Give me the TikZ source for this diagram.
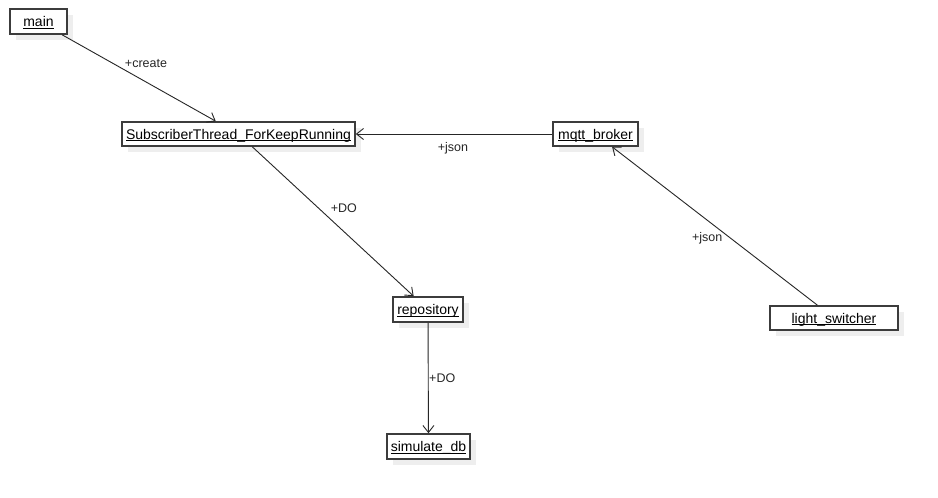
\documentclass[tikz,border=0pt]{standalone}
\usepackage{fontspec}
\setmainfont{Liberation Sans}
\usetikzlibrary{arrows.meta,shadows}
\definecolor{boxline}{RGB}{60,60,60}
\definecolor{shadowc}{RGB}{238,238,238}
\newcommand{\objul}[1]{\setbox0\hbox{#1}\rlap{\rule[-1.8pt]{\wd0}{0.9pt}}\box0}
\tikzset{
  obj/.style={draw=boxline, line width=1.6pt, fill=white, inner sep=0pt,
    minimum height=25pt, font=\fontsize{14}{16}\selectfont,
    text height=10.5pt, text depth=0pt,
    drop shadow={shadow xshift=6pt, shadow yshift=-6pt, fill=shadowc, opacity=1}},
  conn/.style={draw=black!85, line width=0.9pt,
    -{Straight Barb[length=7pt, width=11pt, line width=0.9pt]}},
  lbl/.style={font=\fontsize{12.5}{14}\selectfont, inner sep=0pt, text=black!85}
}
\begin{document}
\begin{tikzpicture}[x=1pt, y=-1pt]
\useasboundingbox[fill=white] (0,0) rectangle (938,498);
\node[obj, minimum width=57pt]  (main)  at (38.5,21.5)  {\objul{main}};
\node[obj, minimum width=233pt, minimum height=24pt] (sub) at (238.5,134) {\objul{SubscriberThread\_ForKeepRunning}};
\node[obj, minimum width=85pt, minimum height=24pt]  (mqtt)  at (595.5,134) {\objul{mqtt\_broker}};
\node[obj, minimum width=70pt]  (repo)  at (428,309.5) {\objul{repository}};
\node[obj, minimum width=83pt]  (simdb) at (428.5,446.5) {\objul{simulate\_db}};
\node[obj, minimum width=128pt, minimum height=24pt] (light) at (834,318) {\objul{light\_switcher}};

\draw[conn] (main) -- (sub) node[lbl, pos=0.546, yshift=18pt] {+create};
\draw[conn] (mqtt) -- (sub) node[lbl, pos=0.505, yshift=-14pt] {+json};
\draw[conn] (sub) -- (repo) node[lbl, pos=0.567, yshift=23.5pt] {+DO};
\draw[conn] (repo) -- (simdb) node[lbl, pos=0.5, xshift=14pt] {+DO};
\draw[conn] (light) -- (mqtt) node[lbl, pos=0.425, xshift=-23pt] {+json};
\end{tikzpicture}
\end{document}
